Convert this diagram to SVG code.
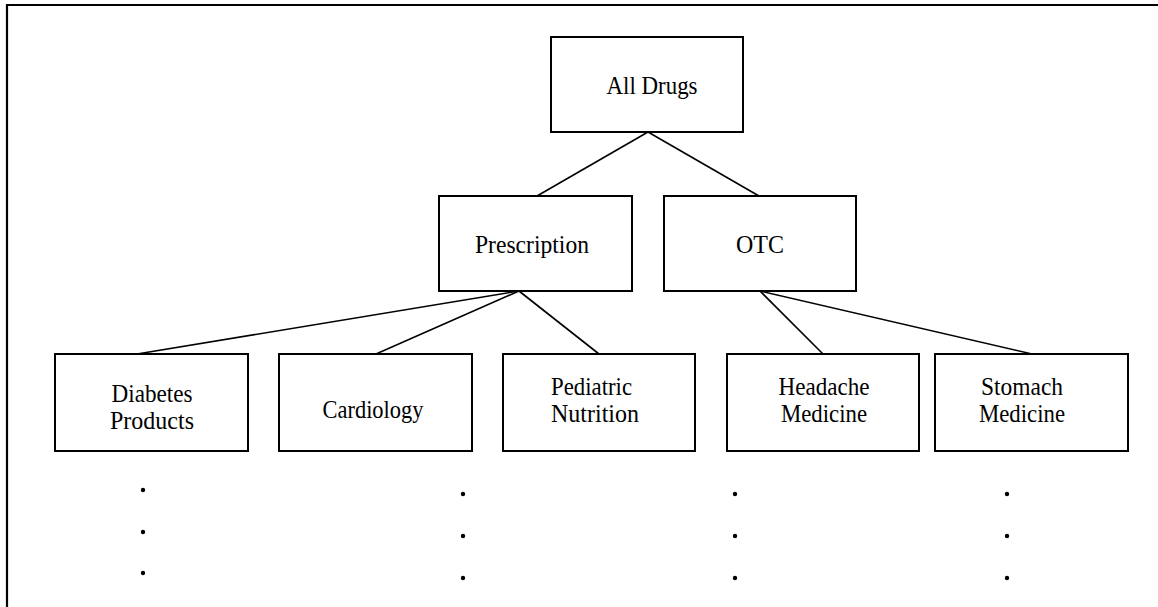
<svg xmlns="http://www.w3.org/2000/svg" width="1158" height="607" viewBox="0 0 1158 607">
  <style>
    .box { fill: #ffffff; stroke: #000000; stroke-width: 2; }
    .edge { stroke: #000000; stroke-width: 1.6; fill: none; }
    .label { font-family: "Liberation Serif", "Times New Roman", serif; font-size: 26px; fill: #000000; text-anchor: middle; }
    .dot { fill: #000000; }
  </style>
  <rect width="1158" height="607" fill="#ffffff"/>
  <!-- open frame: top and left edges -->
  <path d="M7,607 V5 H1158" fill="none" stroke="#000000" stroke-width="2.2"/>

  <g id="connectors">
    <line class="edge" x1="648" y1="132" x2="537" y2="196"/>
    <line class="edge" x1="648" y1="132" x2="759" y2="196"/>
    <line class="edge" x1="519" y1="291" x2="137" y2="354"/>
    <line class="edge" x1="519" y1="291" x2="376" y2="354"/>
    <line class="edge" x1="519" y1="291" x2="599" y2="354"/>
    <line class="edge" x1="760" y1="291" x2="823" y2="354"/>
    <line class="edge" x1="760" y1="291" x2="1032" y2="354"/>
  </g>

  <g id="all-drugs">
    <rect class="box" x="551" y="37" width="192" height="95"/>
    <text class="label" x="652" y="94" textLength="91" lengthAdjust="spacingAndGlyphs">All Drugs</text>
  </g>
  <g id="prescription">
    <rect class="box" x="439" y="196" width="193" height="95"/>
    <text class="label" x="532" y="253" textLength="114" lengthAdjust="spacingAndGlyphs">Prescription</text>
  </g>
  <g id="otc">
    <rect class="box" x="664" y="196" width="192" height="95"/>
    <text class="label" x="760" y="253" textLength="48" lengthAdjust="spacingAndGlyphs">OTC</text>
  </g>
  <g id="diabetes-products">
    <rect class="box" x="55" y="354" width="193" height="97"/>
    <text class="label" x="152" y="402" textLength="81" lengthAdjust="spacingAndGlyphs">Diabetes</text>
    <text class="label" x="152" y="429" textLength="84" lengthAdjust="spacingAndGlyphs">Products</text>
  </g>
  <g id="cardiology">
    <rect class="box" x="279" y="354" width="193" height="97"/>
    <text class="label" x="373" y="418" textLength="101" lengthAdjust="spacingAndGlyphs">Cardiology</text>
  </g>
  <g id="pediatric-nutrition">
    <rect class="box" x="503" y="354" width="192" height="97"/>
    <text class="label" x="551" y="395" style="text-anchor:start" textLength="81" lengthAdjust="spacingAndGlyphs">Pediatric</text>
    <text class="label" x="551" y="422" style="text-anchor:start" textLength="88" lengthAdjust="spacingAndGlyphs">Nutrition</text>
  </g>
  <g id="headache-medicine">
    <rect class="box" x="727" y="354" width="192" height="97"/>
    <text class="label" x="824" y="395" textLength="91" lengthAdjust="spacingAndGlyphs">Headache</text>
    <text class="label" x="824" y="422" textLength="86" lengthAdjust="spacingAndGlyphs">Medicine</text>
  </g>
  <g id="stomach-medicine">
    <rect class="box" x="935" y="354" width="193" height="97"/>
    <text class="label" x="1022" y="395" textLength="82" lengthAdjust="spacingAndGlyphs">Stomach</text>
    <text class="label" x="1022" y="422" textLength="86" lengthAdjust="spacingAndGlyphs">Medicine</text>
  </g>

  <!-- continuation dots -->
  <g id="ellipses">
    <circle class="dot" cx="143" cy="490" r="2.2"/>
    <circle class="dot" cx="143" cy="532" r="2.2"/>
    <circle class="dot" cx="143" cy="573" r="2.2"/>
    <circle class="dot" cx="463" cy="494" r="2.2"/>
    <circle class="dot" cx="463" cy="536" r="2.2"/>
    <circle class="dot" cx="463" cy="578" r="2.2"/>
    <circle class="dot" cx="735" cy="494" r="2.2"/>
    <circle class="dot" cx="735" cy="536" r="2.2"/>
    <circle class="dot" cx="735" cy="578" r="2.2"/>
    <circle class="dot" cx="1007" cy="494" r="2.2"/>
    <circle class="dot" cx="1007" cy="536" r="2.2"/>
    <circle class="dot" cx="1007" cy="578" r="2.2"/>
  </g>
</svg>
